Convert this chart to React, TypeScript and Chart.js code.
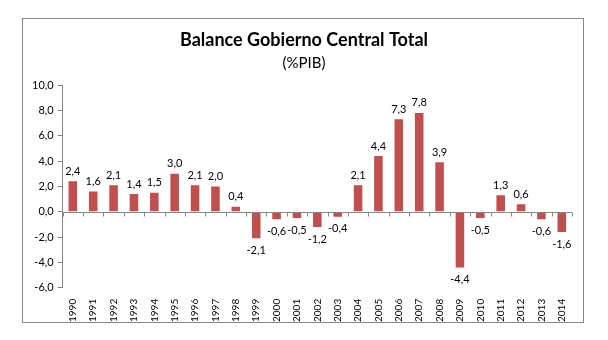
import React, { useEffect, useRef } from "react";
import { Chart, registerables } from "chart.js";

Chart.register(...registerables);

const TITLE = "Balance Gobierno Central Total";
const SUBTITLE = "(%PIB)";
const years = ["1990","1991","1992","1993","1994","1995","1996","1997","1998","1999","2000","2001","2002","2003","2004","2005","2006","2007","2008","2009","2010","2011","2012","2013","2014"];
const balance = [2.4,1.6,2.1,1.4,1.5,3.0,2.1,2.0,0.4,-2.1,-0.6,-0.5,-1.2,-0.4,2.1,4.4,7.3,7.8,3.9,-4.4,-0.5,1.3,0.6,-0.6,-1.6];
const yMin = -6;
const yMax = 10;
const yStep = 2;

const FONT = "Lato, 'Open Sans', sans-serif";
const AXIS_GRAY = "#868686";
const BAR_RED = "#C0504D";

const fmt = (v: number) => v.toFixed(1).replace(".", ",");

const decorPlugin = {
  id: "decor",
  beforeDraw(chart: any) {
    const ctx = chart.ctx;
    ctx.save();
    ctx.fillStyle = "#ffffff";
    ctx.fillRect(0, 0, chart.width, chart.height);
    ctx.strokeStyle = AXIS_GRAY;
    ctx.lineWidth = 1;
    ctx.strokeRect(22.5, 18.5, 561, 304);
    ctx.fillStyle = "#000";
    ctx.textAlign = "center";
    ctx.textBaseline = "middle";
    ctx.font = `bold 18px ${FONT}`;
    ctx.fillText(TITLE, 304, 40);
    ctx.font = `15px ${FONT}`;
    ctx.fillText(SUBTITLE, 304, 63);
    ctx.restore();
  },
  afterDatasetsDraw(chart: any) {
    const ctx = chart.ctx;
    const xs = chart.scales.x;
    const ys = chart.scales.y;
    const y0 = Math.round(ys.getPixelForValue(0)) + 0.5;
    ctx.save();
    ctx.strokeStyle = AXIS_GRAY;
    ctx.lineWidth = 1;
    ctx.beginPath();
    ctx.moveTo(chart.chartArea.left, y0);
    ctx.lineTo(chart.chartArea.right, y0);
    for (let i = 0; i <= years.length; i++) {
      const x = Math.round(xs.getPixelForValue(i - 0.5)) + 0.5;
      ctx.moveTo(x, y0);
      ctx.lineTo(x, y0 + 4);
    }
    ctx.stroke();
    ctx.fillStyle = "#000";
    ctx.font = `11px ${FONT}`;
    ctx.textAlign = "center";
    ctx.textBaseline = "middle";
    const meta = chart.getDatasetMeta(0);
    meta.data.forEach((bar: any, i: number) => {
      const v = balance[i];
      const y = v >= 0 ? bar.y - 10 : bar.y + 12;
      ctx.fillText(fmt(v), bar.x, y);
    });
    ctx.restore();
  },
};

export default function App() {
  const ref = useRef<HTMLCanvasElement>(null);
  useEffect(() => {
    document.body.style.margin = "0";
    const chart = new Chart(ref.current!, {
      type: "bar",
      data: {
        labels: years,
        datasets: [
          {
            data: balance,
            backgroundColor: BAR_RED,
            borderWidth: 0,
            categoryPercentage: 1,
            barPercentage: 0.42,
          },
        ],
      },
      options: {
        responsive: false,
        animation: false,
        layout: { padding: { left: 28, right: 36, top: 85, bottom: 15 } },
        plugins: { legend: { display: false }, tooltip: { enabled: false }, title: { display: false } },
        scales: {
          x: {
            grid: { display: false },
            border: { display: false },
            ticks: {
              autoSkip: false,
              minRotation: 90,
              maxRotation: 90,
              color: "#000",
              font: { family: FONT, size: 10 },
              padding: 3,
            },
          },
          y: {
            min: yMin,
            max: yMax,
            grid: {
              color: "transparent",
              tickColor: AXIS_GRAY,
              tickLength: 5,
              drawOnChartArea: false,
            },
            border: { display: true, color: AXIS_GRAY },
            ticks: {
              stepSize: yStep,
              color: "#000",
              font: { family: FONT, size: 11 },
              padding: 4,
              callback: (v: any) => fmt(Number(v)),
            },
          },
        },
      },
      plugins: [decorPlugin],
    });
    return () => chart.destroy();
  }, []);
  return (
    <div style={{ position: "absolute", left: 0, top: 0, width: 608, height: 340 }}>
      <canvas ref={ref} width={608} height={340} />
    </div>
  );
}
